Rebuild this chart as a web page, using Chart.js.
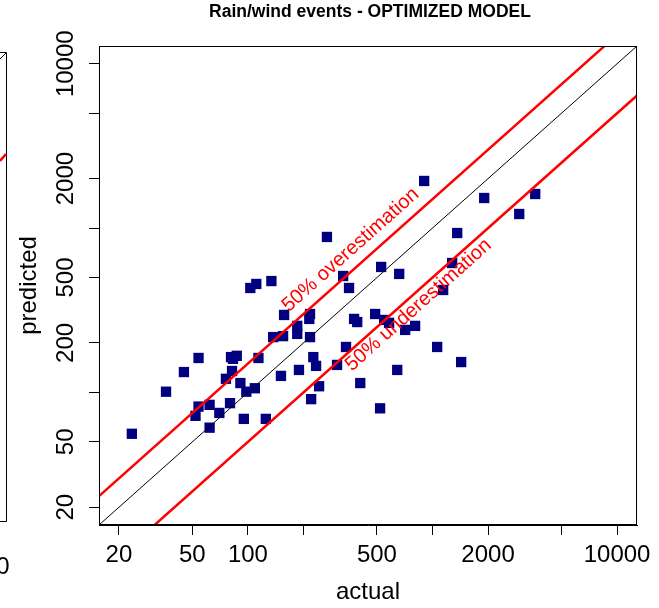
<!DOCTYPE html>
<html>
<head>
<meta charset="utf-8">
<script src="https://cdn.jsdelivr.net/npm/chart.js@4.4.0/dist/chart.umd.min.js"></script>
<style>
  html, body { margin: 0; padding: 0; background: #fff; }
  canvas { display: block; }
</style>
</head>
<body>
<canvas id="chart" width="659" height="608"></canvas>
<script>
var actualVals = [268, 103, 111, 134, 328, 353, 527, 157, 217, 215,
                  185, 185, 137, 155, 217, 376, 391, 489, 54, 81,
                  87, 83, 114, 45, 82, 76, 91, 98, 109, 151,
                  189, 226, 234, 243, 220, 304, 340, 406, 520, 36,
                  54, 52, 62, 70, 80, 62, 95, 125, 23.5, 901,
                  1906, 3602, 2950, 1361, 1278, 1142, 660, 547, 582, 711,
                  805, 644, 1060, 1430];
var predictedVals = [883, 432, 457, 476, 511, 432, 580, 296, 300, 280,
                     254, 227, 217, 220, 217, 280, 268, 300, 162, 164,
                     167, 160, 162, 133, 135, 121, 114, 101, 106, 126,
                     137, 164, 145, 109, 91, 147, 189, 114, 80, 101,
                     82, 72, 84, 75, 86, 61, 69, 69, 56, 1935,
                     1524, 1612, 1218, 933, 613, 420, 526, 276, 265, 240,
                     254, 137, 189, 153];

var tickVals = [20, 50, 100, 200, 500, 1000, 2000, 5000, 10000];
var xTickLabels = [20, 50, 100, 500, 2000, 10000];
var yTickLabels = [20, 50, 200, 500, 2000, 10000];

// reference lines: 1:1, +50 %, -50 %
var lineX = [10, 20000];
var perfectY = [10, 20000];
var overY = [15, 30000];
var underY = [5, 10000];

var axisMin = 15.6, axisMax = 12822;

var FONT = "'Liberation Sans', Arial, sans-serif";
Chart.defaults.font.family = FONT;
Chart.defaults.color = '#000';

function pairs(xs, ys) {
  return xs.map(function (x, i) { return { x: x, y: ys[i] }; });
}

var extras = {
  id: 'extras',
  afterDatasetsDraw: function (chart) {
    var ctx = chart.ctx, a = chart.chartArea;
    var xs = chart.scales.x, ys = chart.scales.y;
    ctx.save();
    // plot box
    ctx.strokeStyle = '#000';
    ctx.lineWidth = 1;
    ctx.strokeRect(a.left + 0.5, a.top + 0.5, a.right - a.left - 1, a.bottom - a.top - 1);

    // labels along the red lines
    function lineLabel(text, cx, cy, ys0) {
      var p0x = xs.getPixelForValue(lineX[0]), p0y = ys.getPixelForValue(ys0[0]);
      var p1x = xs.getPixelForValue(lineX[1]), p1y = ys.getPixelForValue(ys0[1]);
      var ang = Math.atan2(p1y - p0y, p1x - p0x);
      ctx.save();
      ctx.translate(xs.getPixelForValue(cx), ys.getPixelForValue(cy));
      ctx.rotate(ang);
      ctx.fillStyle = '#ff0000';
      ctx.font = '20px ' + FONT;
      ctx.textAlign = 'center';
      ctx.textBaseline = 'middle';
      ctx.fillText(text, 0, 0);
      ctx.restore();
    }
    lineLabel('50% overestimation', 360, 736, overY);
    lineLabel('50% underestimation', 840, 340, underY);

    // title
    ctx.fillStyle = '#000';
    ctx.font = 'bold 17.5px ' + FONT;
    ctx.textAlign = 'center';
    ctx.textBaseline = 'middle';
    ctx.fillText('Rain/wind events - OPTIMIZED MODEL', (a.left + a.right) / 2 + 2, 12);

    // edge of the neighbouring panel
    ctx.strokeStyle = '#000';
    ctx.beginPath();
    ctx.moveTo(-2, 52.5); ctx.lineTo(6.5, 52.5); ctx.lineTo(6.5, 521.5); ctx.lineTo(-2, 521.5);
    ctx.stroke();
    ctx.beginPath();
    ctx.moveTo(0, 59); ctx.lineTo(6, 53);
    ctx.stroke();
    ctx.strokeStyle = '#ff0000';
    ctx.lineWidth = 2.5;
    ctx.beginPath();
    ctx.moveTo(0, 161); ctx.lineTo(6, 154);
    ctx.stroke();
    ctx.fillStyle = '#000';
    ctx.font = '24px ' + FONT;
    ctx.textAlign = 'center';
    ctx.fillText('0', 3, 567);
    ctx.restore();
  }
};

function setTicks(scale) {
  scale.ticks = tickVals.map(function (v) { return { value: v }; });
}

new Chart(document.getElementById('chart'), {
  type: 'scatter',
  data: {
    datasets: [
      { type: 'line', data: pairs(lineX, perfectY), borderColor: '#000', borderWidth: 1,
        pointRadius: 0, fill: false, clip: 0 },
      { type: 'line', data: pairs(lineX, overY), borderColor: '#ff0000', borderWidth: 2.5,
        pointRadius: 0, fill: false, clip: 0 },
      { type: 'line', data: pairs(lineX, underY), borderColor: '#ff0000', borderWidth: 2.5,
        pointRadius: 0, fill: false, clip: 0 },
      { data: pairs(actualVals, predictedVals), pointStyle: 'rect', pointRadius: 7.3,
        backgroundColor: '#000080', borderWidth: 0, pointBorderWidth: 0 }
    ]
  },
  options: {
    responsive: false,
    animation: false,
    layout: { padding: { left: 0, right: 22, top: 46, bottom: 0 } },
    plugins: {
      legend: { display: false },
      title: { display: false },
      tooltip: { enabled: false }
    },
    scales: {
      x: {
        type: 'logarithmic',
        min: axisMin, max: axisMax,
        afterBuildTicks: setTicks,
        afterFit: function (s) { s.height = 83; },
        border: { display: true, color: '#000', width: 1 },
        grid: { display: true, drawOnChartArea: false, drawTicks: true, tickLength: 10, color: '#000' },
        ticks: {
          autoSkip: false, maxRotation: 0, minRotation: 0, padding: 6,
          font: { size: 24 }, color: '#000',
          callback: function (v) { return xTickLabels.indexOf(v) >= 0 ? String(v) : ''; }
        },
        title: { display: true, text: 'actual', font: { size: 24 }, padding: { top: 0, bottom: 1 } }
      },
      y: {
        type: 'logarithmic',
        min: axisMin, max: axisMax,
        afterBuildTicks: setTicks,
        afterFit: function (s) { s.width = 99; },
        border: { display: true, color: '#000', width: 1 },
        grid: { display: true, drawOnChartArea: false, drawTicks: true, tickLength: 10, color: '#000' },
        ticks: {
          autoSkip: false, minRotation: 90, maxRotation: 90, crossAlign: 'center', padding: -11,
          font: { size: 24 }, color: '#000',
          callback: function (v) { return yTickLabels.indexOf(v) >= 0 ? String(v) : ''; }
        },
        title: { display: true, text: 'predicted', font: { size: 24 }, padding: { top: 15, bottom: 0 } }
      }
    }
  },
  plugins: [extras]
});
</script>
</body>
</html>
